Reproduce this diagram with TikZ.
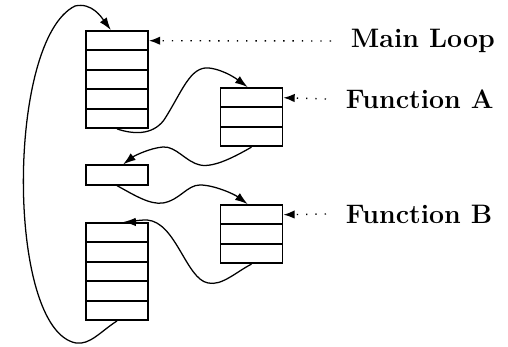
\documentclass[tikz,border=0pt]{standalone}
\usepackage{tikz}
\usetikzlibrary{arrows.meta}

\tikzset{
    cell/.style={shape=rectangle,draw=black,line width=1.3pt,minimum width=1.55cm,minimum height=0.485cm,inner sep=0pt},
    flow/.style={line width=0.9pt,-{Latex[length=9pt,width=6pt]}},
    hint/.style={line width=1pt,dash pattern=on 1pt off 5.6pt,-{Latex[length=8pt,width=6pt]}},
    tag/.style={anchor=west,inner sep=0pt,inner xsep=14pt,font=\fontsize{19}{22}\selectfont\bfseries}
}

\begin{document}
\begin{tikzpicture}[x=0.025cm,y=-0.025cm]
    	
    	\useasboundingbox (0,0) rectangle (508,347);
    	
    	% stacks
    	\foreach \i in {1,...,5} \node[cell] (main\i) at (117, {40.7+19.4*(\i-1)}) {};
    	\foreach \i in {1,...,3} \node[cell] (funa\i) at (251.5, {97.7+19.4*(\i-1)}) {};
    	\node[cell] (mid) at (117, 175) {};
    	\foreach \i in {1,...,3} \node[cell] (funb\i) at (251.5, {214.7+19.4*(\i-1)}) {};
    	\foreach \i in {1,...,5} \node[cell] (low\i) at (117, {232.7+19.4*(\i-1)}) {};
    	
    	% labels
    	\node[tag] (ml) at (331, 41) {Main Loop};
    	\node[tag] (fa) at (326, 99) {Function A};
    	\node[tag] (fb) at (326, 214) {Function B};
    	
    	\draw[hint] (ml.west) -- (main1.east);
    	\draw[hint] (fa.west) -- (funa1.east);
    	\draw[hint] (fb.west) -- (funb1.east);
    	
    	% calls and returns
    	\draw[flow] (low5.south) .. controls (100,332) and (90,345) .. (76,343)
    	    .. controls (6,330) and (6,40) .. (75,6)
    	    .. controls (92,2) and (102,18) .. (main1.120);
    	\draw[flow] (main5.south) .. controls (132,134) and (152,136) .. (164,120)
    	    .. controls (182,92) and (190,66) .. (209,68)
    	    .. controls (225,70) and (238,80) .. (funa1.110);
    	\draw[flow] (funa3.south) .. controls (236,156) and (214,168) .. (200,165)
    	    .. controls (186,162) and (176,146) .. (163,147)
    	    .. controls (150,148) and (134,156) .. (mid.60);
    	\draw[flow] (mid.south) .. controls (134,195) and (150,205) .. (163,203)
    	    .. controls (180,200) and (187,185) .. (200,185)
    	    .. controls (214,185) and (234,194) .. (funb1.110);
    	\draw[flow] (funb3.south) .. controls (236,272) and (222,286) .. (208,283)
    	    .. controls (186,279) and (176,222) .. (147,220)
    	    .. controls (136,220) and (130,222) .. (low1.60);
    	
\end{tikzpicture}
\end{document}
